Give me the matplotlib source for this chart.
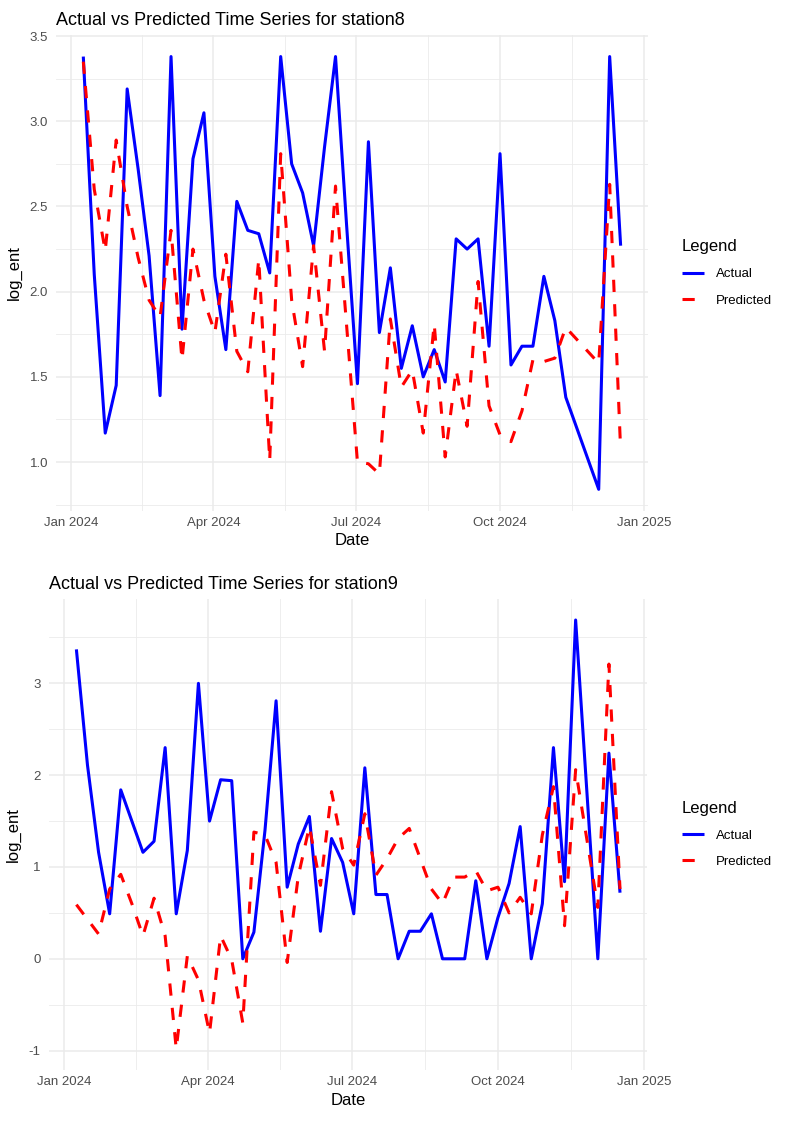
import numpy as np
import pandas as pd
import matplotlib
matplotlib.use("Agg")
import matplotlib.pyplot as plt
import matplotlib.dates as mdates
from matplotlib.ticker import MultipleLocator, FormatStrFormatter

plt.rcParams['font.family'] = ['Liberation Sans', 'DejaVu Sans']
plt.rcParams['axes.unicode_minus'] = False

# weekly observation dates (nan = week missing for that station)
weeks = ["2024-01-09", "2024-01-16", "2024-01-23", "2024-01-30", "2024-02-06",
         "2024-02-13", "2024-02-20", "2024-02-27", "2024-03-05", "2024-03-12",
         "2024-03-19", "2024-03-26", "2024-04-02", "2024-04-09", "2024-04-16",
         "2024-04-23", "2024-04-30", "2024-05-07", "2024-05-14", "2024-05-21",
         "2024-05-28", "2024-06-04", "2024-06-11", "2024-06-18", "2024-06-25",
         "2024-07-02", "2024-07-09", "2024-07-16", "2024-07-23", "2024-07-30",
         "2024-08-06", "2024-08-13", "2024-08-20", "2024-08-27", "2024-09-03",
         "2024-09-10", "2024-09-17", "2024-09-24", "2024-10-01", "2024-10-08",
         "2024-10-15", "2024-10-22", "2024-10-29", "2024-11-05", "2024-11-12",
         "2024-11-19", "2024-11-26", "2024-12-03", "2024-12-10", "2024-12-17"]

nan = np.nan
st8_actual = [3.38, 2.10, 1.17, 1.45, 3.19, 2.72, 2.21, 1.39, 3.38, 1.78,
              2.78, 3.05, 2.09, 1.66, 2.53, 2.36, 2.34, 2.11, 3.38, 2.75,
              2.58, 2.27, 2.85, 3.38, 2.40, 1.46, 2.88, 1.76, 2.14, 1.55,
              1.80, 1.50, 1.66, 1.47, 2.31, 2.25, 2.31, 1.68, 2.81, 1.57,
              1.68, 1.68, 2.09, 1.83, 1.38, nan, nan, 0.84, 3.38, 2.27]
st8_pred = [3.35, 2.60, 2.24, 2.89, 2.50, 2.20, 1.95, 1.85, 2.36, 1.60,
            2.25, 1.95, 1.76, 2.22, 1.65, 1.53, 2.19, 1.01, 2.81, 1.95,
            1.56, 2.27, 1.65, 2.62, 1.81, 1.00, 0.99, 0.93, 1.84, 1.44,
            1.54, 1.17, 1.81, 1.03, 1.54, 1.21, 2.06, 1.33, 1.16, 1.12,
            1.30, 1.60, 1.59, 1.61, 1.79, nan, nan, 1.58, 2.63, 1.07]

st9_actual = [3.37, 2.11, 1.16, 0.49, 1.84, 1.50, 1.16, 1.28, 2.30, 0.49,
              1.18, 3.00, 1.50, 1.95, 1.94, 0.00, 0.29, 1.40, 2.81, 0.78,
              1.25, 1.55, 0.30, 1.31, 1.05, 0.49, 2.08, 0.70, 0.70, 0.00,
              0.30, 0.30, 0.49, 0.00, 0.00, 0.00, 0.85, 0.00, 0.45, 0.82,
              1.44, 0.00, 0.60, 2.30, 0.84, 3.69, nan, 0.00, 2.24, 0.72]
st9_pred = [0.59, 0.43, 0.27, 0.76, 0.92, 0.60, 0.25, 0.66, 0.25, -0.98,
            0.03, -0.23, -0.81, 0.25, -0.01, -0.70, 1.38, 1.35, 1.05, -0.04,
            0.90, 1.44, 0.80, 1.82, 1.20, 1.02, 1.58, 0.91, 1.09, 1.31,
            1.42, 1.09, 0.76, 0.60, 0.89, 0.89, 0.96, 0.74, 0.78, 0.50,
            0.67, 0.49, 1.35, 1.875, 0.36, 2.06, nan, 0.56, 3.21, 0.76]

major_dates = ["2024-01-01", "2024-04-01", "2024-07-01", "2024-10-01", "2025-01-01"]

GRID = "#EBEBEB"
TXT = "#4D4D4D"


def draw_panel(ax, actual, pred, title, ystep, yfmt):
    df = pd.DataFrame({"date": pd.to_datetime(weeks), "actual": actual, "pred": pred})
    a = df.dropna(subset=["actual"])
    p = df.dropna(subset=["pred"])
    ax.plot(a["date"], a["actual"], color="blue", lw=2.2, label="Actual",
            solid_joinstyle="round", solid_capstyle="butt")
    ax.plot(p["date"], p["pred"], color="red", lw=2.2, label="Predicted",
            linestyle=(0, (4, 4)), dash_joinstyle="round", dash_capstyle="butt")
    ax.margins(x=0.05, y=0.05)

    # date axis: major at quarters, minor half way between
    maj = mdates.date2num(pd.to_datetime(major_dates))
    ax.set_xticks(maj)
    ax.set_xticks((maj[:-1] + maj[1:]) / 2, minor=True)
    ax.xaxis.set_major_formatter(mdates.DateFormatter("%b %Y"))
    ax.yaxis.set_major_locator(MultipleLocator(ystep))
    ax.yaxis.set_minor_locator(MultipleLocator(ystep / 2))
    ax.yaxis.set_major_formatter(FormatStrFormatter(yfmt))

    ax.grid(True, which="major", color=GRID, lw=1.1)
    ax.grid(True, which="minor", color=GRID, lw=0.6)
    ax.set_axisbelow(True)
    for s in ax.spines.values():
        s.set_visible(False)
    ax.tick_params(which="both", length=0)
    ax.tick_params(axis="x", labelsize=9.5, labelcolor=TXT, pad=4.5)
    ax.tick_params(axis="y", labelsize=9.5, labelcolor=TXT, pad=6)

    ax.set_xlabel("Date", fontsize=12, labelpad=3)
    ax.set_ylabel("log_ent", fontsize=12, labelpad=5.5)
    ax.set_title(title, loc="left", fontsize=13, pad=7)

    leg = ax.legend(title="Legend", loc="center left", bbox_to_anchor=(1.047, 0.5),
                    frameon=False, fontsize=9.5, title_fontsize=12,
                    handlelength=1.65, handletextpad=0.95, labelspacing=1.05,
                    borderpad=0, alignment="left")
    return leg


fig = plt.figure(figsize=(7.86, 11.23), dpi=100)
ax1 = fig.add_axes([0.0718, 0.545, 0.752, 0.4239])
ax2 = fig.add_axes([0.0626, 0.0470, 0.7608, 0.4200])

draw_panel(ax1, st8_actual, st8_pred, "Actual vs Predicted Time Series for station8", 0.5, "%.1f")
draw_panel(ax2, st9_actual, st9_pred, "Actual vs Predicted Time Series for station9", 1.0, "%d")

fig.savefig("out.png", dpi=100)
